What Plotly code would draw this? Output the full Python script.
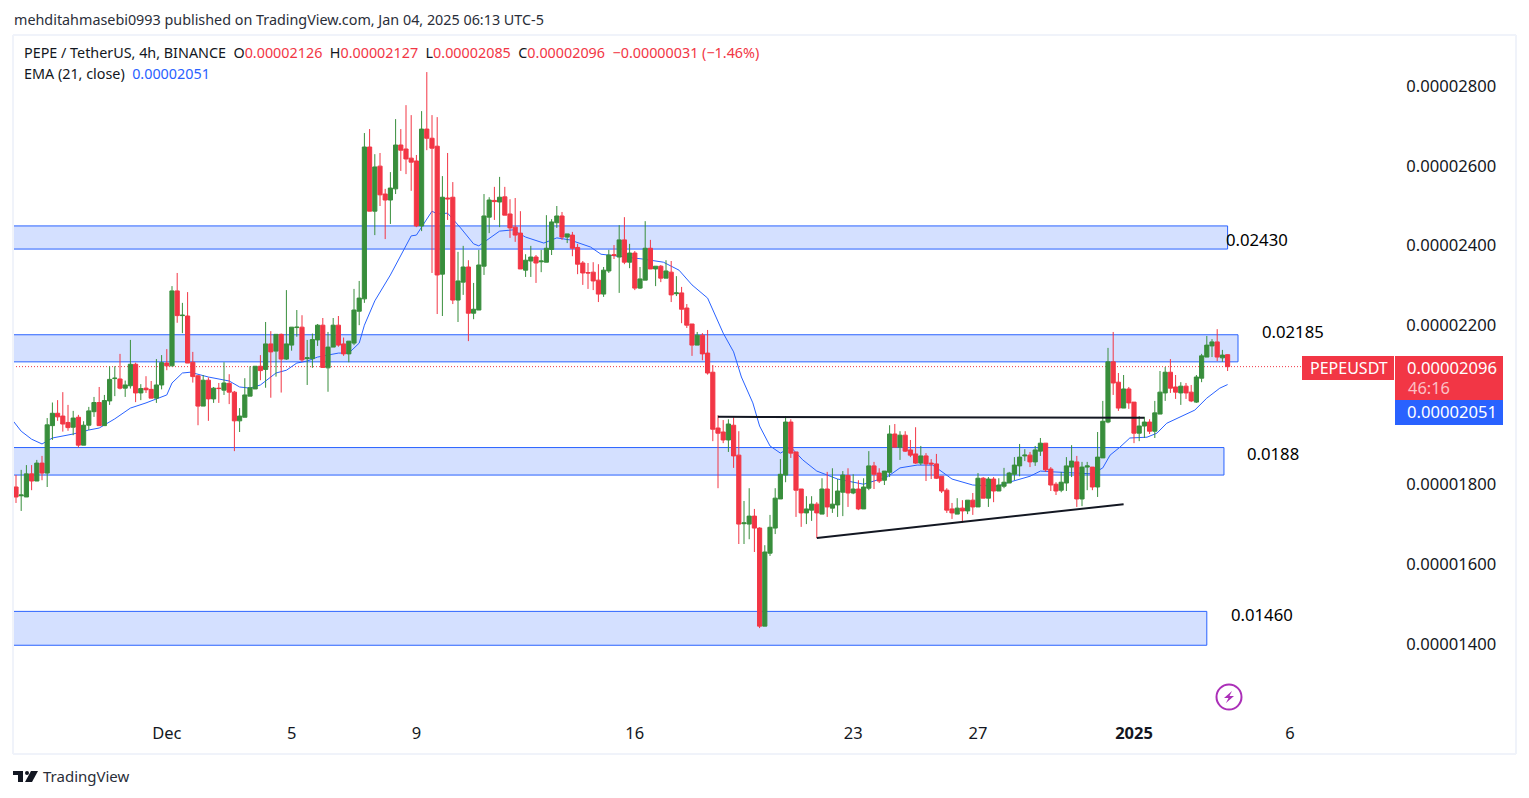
import plotly.graph_objects as go

# Prices are in units of 0.00000001 USDT
opens = [1794,1772,1769,1827,1809,1854,1829,1948,1979,1972,1956,1944,1969,1899,1949,1983,2006,1948,2010,2066,
2065,2042,2048,2102,2030,2042,2039,2017,2050,2105,2098,2286,2224,2223,2107,2073,1997,2062,2015,2042,
2037,2054,2032,1960,1969,2022,2040,2097,2089,2153,2135,2177,2115,2150,2194,2195,2116,2116,2163,2200,
2093,2145,2200,2153,2128,2155,2235,2266,2647,2486,2599,2529,2514,2542,2652,2642,2619,2612,2449,2692,
2669,2649,2328,2519,2521,2263,2308,2346,2230,2238,2348,2471,2513,2509,2522,2479,2446,2431,2338,2361,
2371,2359,2358,2390,2457,2474,2421,2426,2395,2356,2332,2333,2313,2278,2336,2377,2371,2414,2358,2381,
2293,2313,2393,2341,2348,2318,2333,2279,2281,2243,2203,2150,2175,2130,2082,1942,1932,1912,1949,1874,
1702,1701,1721,1691,1445,1628,1691,1764,1824,1957,1882,1789,1729,1736,1751,1726,1789,1741,1749,1781,
1823,1779,1789,1739,1791,1847,1829,1811,1831,1927,1894,1924,1887,1877,1854,1872,1854,1852,1821,1786,
1739,1726,1741,1734,1761,1744,1816,1766,1814,1784,1796,1804,1826,1847,1872,1874,1857,1884,1904,1839,
1801,1786,1804,1844,1857,1764,1844,1844,1794,1867,1957,2108,2057,1992,2040,2007,1929,1947,1957,1934,
1977,2030,2082,2045,2030,2047,2032,2007,2067,2120,2148,2158,2118,2126]
highs = [1824,1837,1849,1849,1862,1872,1967,2006,2012,2032,2000,1985,1975,1959,1995,2020,2045,2025,2097,2097,
2128,2061,2163,2106,2052,2072,2060,2115,2125,2140,2298,2331,2256,2283,2133,2075,2075,2069,2045,2055,
2107,2077,2035,1992,2067,2097,2097,2125,2208,2185,2177,2179,2288,2195,2238,2225,2163,2179,2203,2218,
2183,2218,2223,2169,2160,2291,2311,2682,2692,2629,2632,2542,2584,2717,2692,2752,2727,2627,2737,2835,
2727,2722,2574,2632,2559,2384,2399,2363,2306,2389,2529,2521,2547,2572,2547,2516,2519,2486,2378,2399,
2376,2389,2476,2466,2499,2484,2429,2434,2404,2361,2356,2358,2353,2346,2389,2401,2451,2471,2404,2386,
2346,2461,2414,2348,2351,2363,2361,2323,2296,2253,2203,2183,2180,2188,2100,1974,1962,1964,1969,1934,
1759,1791,1739,1693,1648,1724,1791,1864,1972,1964,1882,1789,1771,1771,1756,1816,1832,1841,1814,1834,
1841,1826,1811,1816,1884,1857,1841,1834,1949,1952,1934,1934,1912,1944,1897,1879,1864,1877,1821,1791,
1754,1766,1761,1761,1779,1829,1819,1819,1819,1816,1842,1832,1869,1902,1889,1882,1897,1917,1904,1844,
1806,1832,1869,1899,1872,1857,1857,1844,1932,2010,2143,2183,2080,2075,2045,2007,1972,1970,1964,2010,
2085,2095,2115,2075,2057,2055,2050,2075,2128,2173,2165,2190,2138,2127]
lows = [1754,1734,1769,1786,1809,1811,1794,1912,1960,1933,1935,1924,1893,1899,1937,1970,1948,1948,2000,2022,
2039,2020,2041,2007,2012,2030,2017,2005,2039,2087,2097,2206,2180,2105,2056,1949,1997,1960,2005,2005,
2025,2002,1884,1932,1969,2022,2040,2062,2043,2018,2071,2031,2113,2136,2171,2108,2050,2093,2148,2094,
2033,2145,2146,2123,2107,2150,2200,2256,2486,2426,2499,2416,2454,2529,2587,2579,2537,2446,2436,2639,
2331,2228,2223,2464,2253,2208,2276,2160,2215,2238,2326,2431,2464,2446,2476,2419,2409,2341,2321,2321,
2306,2333,2358,2376,2444,2414,2406,2373,2328,2301,2291,2288,2258,2271,2331,2366,2281,2353,2343,2288,
2291,2313,2341,2298,2308,2318,2258,2273,2205,2193,2123,2150,2112,2076,1909,1791,1904,1882,1842,1651,
1651,1663,1631,1440,1445,1621,1676,1764,1806,1867,1719,1694,1701,1709,1666,1726,1719,1729,1719,1721,
1744,1776,1736,1739,1786,1789,1804,1799,1819,1894,1862,1882,1869,1852,1849,1809,1814,1814,1779,1729,
1714,1726,1704,1726,1724,1744,1766,1744,1756,1784,1791,1804,1811,1821,1859,1844,1847,1872,1832,1784,
1774,1781,1784,1819,1744,1746,1786,1786,1769,1867,1954,2025,1985,1992,1990,1904,1909,1917,1927,1917,
1977,2010,2030,2015,2000,2015,2007,2005,2057,2120,2120,2110,2108,2085]
closes = [1769,1774,1827,1809,1854,1829,1950,1979,1970,1952,1943,1967,1899,1949,1985,2006,1948,2011,2064,2067,
2042,2050,2102,2030,2041,2038,2017,2050,2106,2098,2286,2224,2225,2105,2071,1997,2062,2015,2042,2041,
2055,2032,1960,1972,2025,2043,2097,2086,2153,2133,2177,2115,2153,2195,2195,2113,2118,2164,2200,2094,
2145,2200,2150,2128,2160,2238,2268,2647,2486,2597,2527,2514,2544,2652,2639,2617,2609,2449,2692,2669,
2644,2326,2521,2517,2263,2311,2346,2230,2240,2351,2474,2514,2510,2521,2476,2444,2426,2341,2363,2371,
2356,2361,2393,2459,2474,2421,2429,2393,2353,2331,2331,2311,2278,2338,2376,2375,2414,2358,2381,2293,
2316,2393,2341,2348,2318,2336,2276,2281,2240,2200,2150,2175,2128,2080,1939,1929,1912,1952,1872,1701,
1704,1721,1691,1445,1631,1693,1766,1826,1957,1879,1786,1729,1739,1751,1729,1789,1744,1751,1784,1824,
1779,1789,1739,1794,1847,1826,1809,1834,1927,1894,1924,1884,1874,1854,1872,1852,1852,1816,1784,1736,
1729,1741,1734,1761,1744,1816,1766,1814,1784,1799,1806,1829,1849,1869,1874,1857,1887,1904,1837,1799,
1784,1806,1847,1859,1764,1844,1847,1794,1869,1959,2108,2055,1992,2040,2005,1929,1947,1957,1934,1980,
2032,2082,2042,2032,2047,2030,2010,2070,2123,2150,2158,2120,2125,2096]
bars = list(range(len(opens)))

ema_pos = [-0.5,1,3,5,7,11,14,16,19,22,25,29,30,32,33.5,37,41,43,45,47,50,52,54,56,58,62,64,66,67,69,72,74.5,76,77,80,81,83,85.5,88,89,93,95.5,98,101.5,104,106.5,110.5,112.5,116,120.5,124.5,127.5,130,133,136,138,139.5,141.7,143,145,147,149,151.3,154,158,163,167.5,170,173.3,176.3,180,184,188.7,191,195,197,199.4,202.7,207,209,210.4,212.3,214.2,217.5,219.4,221.3,223.3,226.7,229,231.5,233]
ema_val = [1959,1934,1914,1902,1917,1927,1937,1942,1965,1992,2005,2025,2055,2080,2082,2070,2060,2045,2042,2050,2080,2087,2105,2110,2120,2130,2130,2155,2200,2261,2326,2389,2424,2426,2486,2479,2481,2444,2404,2399,2436,2439,2421,2406,2419,2414,2396,2378,2373,2366,2358,2338,2301,2268,2180,2133,2070,2005,1947,1897,1879,1894,1862,1834,1814,1801,1819,1842,1849,1849,1814,1799,1796,1806,1821,1834,1832,1829,1827,1842,1874,1894,1917,1919,1929,1954,1967,1987,2017,2042,2051]

zones_top = [2449,2176,1893,1482]
zones_bottom = [2391,2108,1824,1397]
zones_end = [233,235,232.3,229]
zone_labels = ["0.02430","0.02185","0.0188","0.01460"]

tick_vals = [1400,1600,1800,2200,2400,2600,2800]
tick_text = ["0.0000%d00" % (v // 100) for v in tick_vals]
date_pos = [29,53,77,119,161,185,215,245]
date_text = ["Dec","5","9","16","23","27","<b>2025</b>","6"]

FONT = "Noto Sans"
DARK = "#131722"
RED = "#f23645"
GREEN = "#388e3c"
BLUE = "#2962ff"
W, H = 1529, 798
L, R, T, B = 13, 1400, 35, 719
FRAME = "#f0f3fa"
X_RANGE = [(L-16)/5.2, (R-16)/5.2]
Y_RANGE = [1212, 2928]

def px(x):
    return (x - L) / (R - L)
def py(y):
    return (B - y) / (B - T)

fig = go.Figure()
fig.add_trace(go.Scatter(x=ema_pos, y=ema_val, mode="lines", line=dict(color=BLUE, width=1), hoverinfo="skip"))
fig.add_trace(go.Candlestick(
    x=bars, open=opens, high=highs, low=lows, close=closes, whiskerwidth=0, xaxis="x2", yaxis="y2",
    increasing=dict(line=dict(color=GREEN, width=1), fillcolor=GREEN),
    decreasing=dict(line=dict(color=RED, width=1), fillcolor=RED),
    hoverinfo="skip"))
# support / resistance lines drawn on the chart
fig.add_trace(go.Scatter(x=[135,217], y=[1970,1968], mode="lines", xaxis="x2", yaxis="y2",
                         line=dict(color=DARK, width=2), hoverinfo="skip"))
fig.add_trace(go.Scatter(x=[154,213], y=[1666,1751], mode="lines", xaxis="x2", yaxis="y2",
                         line=dict(color=DARK, width=2), hoverinfo="skip"))

shapes = []
for top, bot, end in zip(zones_top, zones_bottom, zones_end):
    shapes.append(dict(type="rect", xref="x", yref="y", x0=-0.58, x1=end, y0=bot, y1=top, layer="below",
                       fillcolor="rgba(41,98,255,0.2)", line=dict(color=BLUE, width=1)))
def rect(x0, y0, x1, y1, color):
    return dict(type="rect", xref="paper", yref="paper", x0=px(x0), x1=px(x1), y0=py(y0), y1=py(y1),
                fillcolor=color, line=dict(width=0), layer="above")
def seg(x0, y0, x1, y1, color, width):
    return dict(type="line", xref="paper", yref="paper", x0=px(x0), x1=px(x1), y0=py(y0), y1=py(y1),
                line=dict(color=color, width=width), layer="above")
# frame
shapes += [seg(13,35,1516,35,FRAME,2), seg(13,754,1516,754,FRAME,2), seg(13,35,13,754,FRAME,2), seg(1516,35,1516,754,FRAME,2)]
# last price dotted line
shapes.append(dict(type="line", xref="paper", yref="y", x0=0, x1=px(1302), y0=closes[-1], y1=closes[-1],
                   line=dict(color=RED, width=1, dash="1px,2px"), layer="below"))
# price tags
shapes += [rect(1302,356,1394,380,RED), rect(1395,356,1503,400,RED), rect(1395,400,1503,425,BLUE)]
# lightning icon
shapes.append(dict(type="circle", xref="paper", yref="paper", x0=px(1216.5), x1=px(1241.5), y0=py(684.5), y1=py(709.5),
                   line=dict(color="#ab2fb8", width=2), layer="above"))
def path(points, color):
    d = "M " + " L ".join("%.5f,%.5f" % (px(a), py(b)) for a, b in points) + " Z"
    return dict(type="path", xref="paper", yref="paper", path=d, fillcolor=color, line=dict(width=0), layer="above")
shapes.append(path([(1232,691),(1224,698),(1228.5,698),(1226,703),(1234,696),(1229.5,696)], "#ab2fb8"))
# TradingView logo
shapes.append(path([(13,771),(23,771),(23,782),(18,782),(18,775),(13,775)], "#131722"))
shapes.append(path([(31,771),(38,771),(32,782),(25,782)], "#131722"))
shapes.append(dict(type="circle", xref="paper", yref="paper", x0=px(25), x1=px(29), y0=py(771), y1=py(775),
                   fillcolor="#131722", line=dict(width=0), layer="above"))

ann = []
def text(x, y, s, size=14, color=DARK, anchor="left"):
    ann.append(dict(xref="paper", yref="paper", x=px(x), y=py(y), text=s, showarrow=False, xanchor=anchor, yanchor="middle",
                    font=dict(family=FONT, size=size, color=color), borderpad=0, align="left"))
text(13, 19, "mehditahmasebi0993 published on TradingView.com, Jan 04, 2025 06:13 UTC-5", 14.35, "#2a2e39")
r = lambda s: "<span style='color:%s'>%s</span>" % (RED, s)
text(22.5, 53, "PEPE / TetherUS, 4h, BINANCE  O" + r("0.00002126") + "  H" + r("0.00002127") + "  L" + r("0.00002085")
     + "  C" + r("0.00002096") + "  " + r("−0.00000031 (−1.46%)"), 14.35)
text(22.5, 74, "EMA (21, close)  " + "<span style='color:%s'>0.00002051</span>" % BLUE, 14.35)
for x, y, s in zip([1225,1261,1246,1230], [239,331,453,614], zone_labels):
    text(x, y, s, 16.7, "#000000")
text(1308.5, 367.5, "PEPEUSDT", 16, "#ffffff")
text(1406, 367, "0.00002096", 16.6, "#ffffff")
text(1407, 387, "46:16", 16.4, "#fbc0c5")
text(1406, 411, "0.00002051", 16.6, "#ffffff")
text(42, 776, "TradingView", 15, "#2a2e39")

fig.update_layout(
    width=W, height=H, template="none", showlegend=False, hovermode=False,
    paper_bgcolor="#ffffff", plot_bgcolor="#ffffff",
    margin=dict(l=L, r=W-R, t=T, b=H-B, pad=0),
    shapes=shapes, annotations=ann, boxgap=0.2, boxgroupgap=0,
    xaxis=dict(range=X_RANGE, tickmode="array", tickvals=date_pos, ticktext=date_text,
               showgrid=False, zeroline=False, showline=False, rangeslider=dict(visible=False),
               ticks="", ticklabelstandoff=2, automargin=False,
               tickfont=dict(family=FONT, size=16.5, color=DARK)),
    yaxis=dict(side="right", range=Y_RANGE, tickmode="array", tickvals=tick_vals, ticktext=tick_text,
               showgrid=False, zeroline=False, showline=False, automargin=False,
               ticks="outside", ticklen=2, tickcolor="#ffffff",
               tickfont=dict(family=FONT, size=16.6, color=DARK)),
    xaxis2=dict(range=X_RANGE, overlaying="x", visible=False, rangeslider=dict(visible=False)),
    yaxis2=dict(range=Y_RANGE, overlaying="y", side="right", visible=False),
)
fig.write_html("out.html", config=dict(displayModeBar=False),
               post_script="document.body.style.margin='0';document.body.style.overflow='hidden';")
